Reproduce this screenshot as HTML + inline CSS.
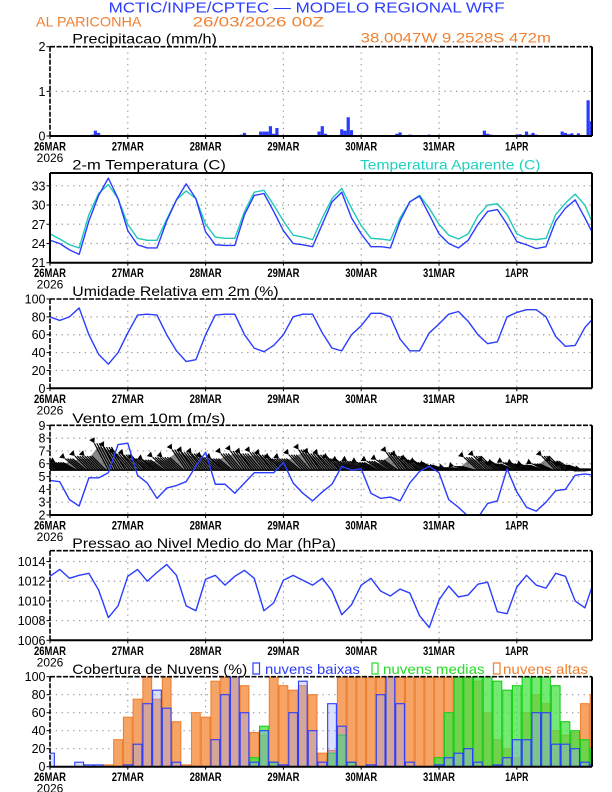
<!DOCTYPE html>
<html><head><meta charset="utf-8"><style>
html,body{margin:0;padding:0;background:#fff;}
svg{display:block;font-family:"Liberation Sans",sans-serif;}
</style></head><body>
<svg id="chart" width="612" height="792" viewBox="0 0 612 792">
<text x="108.6" y="12.5" font-size="15" fill="#2a3cff" textLength="396" lengthAdjust="spacingAndGlyphs">MCTIC/INPE/CPTEC — MODELO REGIONAL WRF</text>
<text x="36" y="26.7" font-size="14" fill="#f08030" textLength="105.5" lengthAdjust="spacingAndGlyphs">AL PARICONHA</text>
<text x="192.6" y="26.7" font-size="14" fill="#f08030" textLength="131.4" lengthAdjust="spacingAndGlyphs">26/03/2026 00Z</text>
<text x="360.7" y="42.7" font-size="14" fill="#f08030" textLength="190.3" lengthAdjust="spacingAndGlyphs">38.0047W 9.2528S 472m</text>
<text x="72.3" y="43.5" font-size="14" fill="#000" textLength="144.6" lengthAdjust="spacingAndGlyphs">Precipitacao (mm/h)</text>
<text x="72.3" y="169.5" font-size="14" fill="#000" textLength="153.6" lengthAdjust="spacingAndGlyphs">2-m Temperatura (C)</text>
<text x="360" y="169.5" font-size="14" fill="#20d0c0" textLength="180.5" lengthAdjust="spacingAndGlyphs">Temperatura Aparente (C)</text>
<text x="72.3" y="296" font-size="14" fill="#000" textLength="206.3" lengthAdjust="spacingAndGlyphs">Umidade Relativa em 2m (%)</text>
<text x="72.3" y="423" font-size="14" fill="#000" textLength="153.2" lengthAdjust="spacingAndGlyphs">Vento em 10m (m/s)</text>
<text x="72.3" y="548" font-size="14" fill="#000" textLength="263.7" lengthAdjust="spacingAndGlyphs">Pressao ao Nivel Medio do Mar (hPa)</text>
<text x="72.3" y="674" font-size="14" fill="#000" textLength="175" lengthAdjust="spacingAndGlyphs">Cobertura de Nuvens (%)</text>
<rect x="253" y="663" width="6.5" height="11" fill="none" stroke="#2a3cff" stroke-width="1.2"/>
<text x="265" y="674" font-size="14" fill="#2a3cff" textLength="95" lengthAdjust="spacingAndGlyphs">nuvens baixas</text>
<rect x="372" y="663" width="6" height="11" fill="none" stroke="#22dd22" stroke-width="1.2"/>
<text x="383" y="674" font-size="14" fill="#22dd22" textLength="101.6" lengthAdjust="spacingAndGlyphs">nuvens medias</text>
<rect x="493.5" y="663" width="6.5" height="11" fill="none" stroke="#f08030" stroke-width="1.2"/>
<text x="503" y="674" font-size="14" fill="#f08030" textLength="85" lengthAdjust="spacingAndGlyphs">nuvens altas</text>
</svg>
<script>
// ---- data (3-hourly unless noted; index i -> hour i*3) ----
const dayLabels = ['26MAR','27MAR','28MAR','29MAR','30MAR','31MAR','1APR'];
const precipHours = [13,14,15,59,60,61,62,65,66,67,68,69,70,76,83,84,85,86,87,90,91,92,93,94,107,108,111,117,134,135,136,144,145,146,147,148,149,150,158,159,160,161,163,166,167];
const precipValues = [0.03,0.12,0.07,0.03,0.07,0.02,0.02,0.1,0.1,0.1,0.22,0.05,0.18,0.01,0.1,0.22,0.05,0.02,0.02,0.15,0.12,0.42,0.13,0.02,0.05,0.08,0.03,0.03,0.12,0.05,0.03,0.03,0.04,0.02,0.1,0.03,0.07,0.03,0.1,0.07,0.04,0.06,0.06,0.8,0.33];
const tempValues = [24.5,24,23,22.3,27.5,31.5,34.2,31,26,23.8,23.3,23.3,27.5,30.8,33.3,31,25.8,23.8,23.7,23.7,28.5,31.5,31.8,29,26,24,23.8,23.5,27,30.5,32,28,25.5,23.5,23.5,23.3,27.5,30.5,31.4,28.5,25.5,24,23.3,24.5,27,29,29.3,27,24.3,23.8,23.2,23.5,27.5,29.5,30.8,28,25];
const apparentValues = [25.5,24.7,23.8,23.3,28.5,31.8,33.2,31,27,24.8,24.5,24.5,27.8,30.8,32.2,31,27,25,24.8,24.8,29,32,32.3,30,27.5,25.3,25,24.6,28,31,32.6,29.5,26.8,24.8,24.7,24.5,28,30.5,31.5,29.5,27,25.3,24.7,25.5,28.3,30,30.2,28.5,25.5,24.8,24.6,24.8,28.5,30.3,31.7,30,26.5];
const rhValues = [80,76,80,90,60,38,27,40,62,82,83,82,60,42,30,32,60,82,83,83,60,45,41,48,60,80,83,83,62,45,42,60,70,84,84,80,55,42,42,62,72,83,86,75,60,50,52,80,85,88,88,80,58,47,48,68,80];
const windSpeed = [4.7,4.6,3.2,2.7,4.9,4.9,5.3,7.5,7.6,5.1,4.5,3.3,4.1,4.3,4.6,5.8,6.9,4.4,4.4,3.7,4.5,5.3,5.3,5.3,6.1,4.5,3.7,3.1,3.8,4.4,5.8,5.5,5.6,3.7,3.3,3.4,3.1,4.5,5.4,5.8,5.3,3.2,2.6,1.9,1.8,2.9,3.1,5.6,3.8,2.6,2.3,3,3.9,4,5.1,5.2,5.1];
const windVectorTop = [6.3,6.1,6.1,6.4,6.6,6.6,7.6,7.3,6.8,6.7,6.4,6.3,6.5,6.5,7.1,6.9,6.8,6.5,6.4,6.8,7.0,6.8,6.9,6.7,6.4,6.4,6.7,7.1,6.8,6.7,6.4,6.2,6.2,6.1,6.2,6.3,6.9,6.6,6.3,6.1,5.9,5.7,5.7,5.8,6.5,6.6,6.2,6.0,6.1,6.0,5.9,6.0,6.6,6.2,5.9,5.6,5.6];
const pressureValues = [1012.5,1013.2,1012.3,1012.6,1012.8,1011.1,1008.3,1009.5,1012.5,1013.2,1012,1012.9,1013.7,1012.6,1009.5,1009,1012.2,1012.6,1011.6,1012.5,1013.1,1012.3,1009,1009.8,1012.1,1012.6,1012.1,1011.6,1012.3,1011,1008.6,1009.6,1011.6,1012.3,1011,1010.5,1011.2,1010.8,1008.5,1007.3,1010.1,1011.5,1010.4,1010.6,1011.7,1011.9,1008.9,1008.7,1011.4,1012.6,1011.6,1011.3,1012.8,1012.5,1010,1009.3,1012.2];
const cloudHigh = [0,0,0,0,0,0,2,30,55,75,100,75,100,50,2,60,55,95,100,100,90,38,35,100,90,85,90,80,15,18,100,100,100,100,100,100,100,100,100,100,100,100,100,100,95,60,30,20,10,60,80,70,40,35,38,70,80];
const cloudMid = [0,0,0,0,0,0,0,0,0,0,0,0,0,0,0,0,0,0,0,0,0,10,45,5,0,0,0,0,0,15,35,5,0,0,0,0,0,0,0,0,10,60,100,100,100,100,95,85,90,100,100,100,90,50,40,30,20];
const cloudLow = [15,0,0,5,2,2,0,0,2,25,70,85,65,5,0,0,0,30,80,100,60,5,40,5,2,60,95,40,5,70,45,5,0,2,80,100,70,5,0,0,2,10,15,20,5,0,2,10,30,30,60,60,25,25,20,5,2];
const precipTicks = [0,1,2];
const tempTicks = [21,24,27,30,33];
const rhTicks = [0,20,40,60,80,100];
const windTicks = [2,3,4,5,6,7,8,9];
const pressureTicks = [1006,1008,1010,1012,1014];
const cloudTicks = [0,20,40,60,80,100];

// ---- layout ----
const NS='http://www.w3.org/2000/svg';
const svg=document.getElementById('chart');
const X0=50, X1=592, PPH=77.8/24, STEP=3;
function xs(h){return X0+h*PPH;}
function mk(tag,attrs,parent){const e=document.createElementNS(NS,tag);for(const k in attrs)e.setAttribute(k,attrs[k]);(parent||svg).appendChild(e);return e;}
function panel(name,top,bottom,min,max,ticks,dashed,labelFmt){
  const p={top,bottom,min,max,y:v=>bottom-(v-min)/(max-min)*(bottom-top)};
  const g=mk('g',{});
  
  
  p.g=g;
  const cp=mk('clipPath',{id:'clip-'+name},g);
  mk('rect',{x:X0,y:top,width:X1-X0,height:bottom-top},cp);
  ticks.forEach(t=>{
    if(t===min||t===max)return;
    const ln=mk('line',{x1:X0,x2:X1,y1:p.y(t),y2:p.y(t),stroke:'#999','stroke-width':1.2,'stroke-dasharray':'1.3,4.5'},g);
    
    
  });
  for(let d=1;d<dayLabels.length;d++){
    const ln=mk('line',{x1:xs(d*24),x2:xs(d*24),y1:top,y2:bottom,stroke:'#999','stroke-width':1.2,'stroke-dasharray':'1.3,4.5'},g);
    
    
  }
  ticks.forEach(t=>{
    const tx=mk('text',{x:45.5,y:p.y(t)+4.5,'font-size':12.5,'text-anchor':'end',fill:'#000'},g);
    tx.textContent=labelFmt?labelFmt(t):String(t);
    
    
    mk('line',{x1:46.5,x2:X0,y1:p.y(t),y2:p.y(t),stroke:'#000','stroke-width':1},g);
  });
  dayLabels.forEach((d,i)=>{
    const tx=mk('text',{x:xs(i*24),y:bottom+14.5,'font-size':12,'font-weight':'bold','text-anchor':'middle',fill:'#000',textLength:d.length>4?32:23,lengthAdjust:'spacingAndGlyphs'},g);
    tx.textContent=d;
    
    
    mk('line',{x1:xs(i*24),x2:xs(i*24),y1:bottom,y2:bottom+3,stroke:'#000','stroke-width':1},g);
  });
  const yr=mk('text',{x:50,y:bottom+26,'font-size':12,'text-anchor':'middle',fill:'#000'},g);
  yr.textContent='2026';
  
  
  p.plot=mk('g',{'clip-path':'url(#clip-'+name+')'},g);
  p.frame=()=>{
    const f=mk('g',{},g);
    
    
    const da=dashed?'5,1.5':'none';
    const sw=dashed?1.6:2;
    mk('line',{x1:X0,x2:X1,y1:top,y2:top,stroke:'#000','stroke-width':sw,'stroke-dasharray':da},f);
    mk('line',{x1:X0,x2:X0,y1:top,y2:bottom,stroke:'#000','stroke-width':sw,'stroke-dasharray':da},f);
    mk('line',{x1:X1,x2:X1,y1:top,y2:bottom,stroke:'#000','stroke-width':2},f);
    mk('line',{x1:X0,x2:X1,y1:bottom,y2:bottom,stroke:'#000','stroke-width':2},f);
  };
  return p;
}
function line(p,vals,color,name){
  const d=vals.map((v,i)=>(i?'L':'M')+xs(i*STEP).toFixed(2)+','+p.y(v).toFixed(2)).join(' ');
  const path=mk('path',{d,fill:'none',stroke:color,'stroke-width':1.4,'stroke-linejoin':'round'},p.plot);
  
  
}

// precipitation
const pP=panel('precip',46.7,136,0,2,precipTicks,true);
precipHours.forEach((h,i)=>{
  const v=precipValues[i];
  const r=mk('rect',{x:xs(h)-1.6,y:pP.y(v),width:3.2,height:pP.bottom-pP.y(v),fill:'#2a3cff'},pP.plot);
  
  
});
pP.frame();

// temperature
const pT=panel('temp',173,262.7,21,35,tempTicks,false);
line(pT,apparentValues,'#20c8b8','apparent-temp-line');
line(pT,tempValues,'#2a3cff','temp-line');
pT.frame();

// RH
const pR=panel('rh',299,388.3,0,100,rhTicks,true);
line(pR,rhValues,'#2a3cff','rh-line');
pR.frame();

// wind
const pW=panel('wind',425.3,515,2,9,windTicks,true);
const DX=-14;
const massD='M'+xs(0)+','+pW.y(5.5)+' '+windVectorTop.map((t,i)=>'L'+(xs(i*STEP)+DX+4).toFixed(2)+','+(pW.y(t)+3).toFixed(2)).join(' ')+' L'+X1+','+pW.y(5.5)+' Z';
const mass=mk('path',{d:massD,fill:'#222','fill-opacity':0.55},pW.plot);


windVectorTop.forEach((t,i)=>{
  const bx=xs(i*STEP), by=pW.y(5.5), tx=bx+DX, ty=pW.y(t);
  const g=mk('g',{},pW.plot);
  
  
  for(let k=0;k<4;k++){
    const off=k*PPH*0.75;
    mk('line',{x1:bx+off,y1:by,x2:tx+off,y2:ty,stroke:'#000','stroke-width':1.2},g);
  }
  const ang=Math.atan2(ty-by,tx-bx);
  const a1=ang+2.6,a2=ang-2.6;
  mk('path',{d:`M${tx},${ty} L${tx-6*Math.cos(a1)},${ty-6*Math.sin(a1)} L${tx-6*Math.cos(a2)},${ty-6*Math.sin(a2)} Z`,fill:'#000'},g);
});
mk('line',{x1:X0,x2:X1,y1:pW.y(5.5),y2:pW.y(5.5),stroke:'#000','stroke-width':1.5},pW.plot);
line(pW,windSpeed,'#2a3cff','wind-speed-line');
pW.frame();

// pressure
const pS=panel('pressure',550.7,640.3,1006,1015.1,pressureTicks,true);
line(pS,pressureValues,'#2a3cff','pressure-line');
pS.frame();

// clouds
const pC=panel('cloud',676.7,766.7,0,100,cloudTicks,true);
const bw=STEP*PPH;
function bars(vals,fill,stroke,name){
  vals.forEach((v,i)=>{
    if(v<=0)return;
    const r=mk('rect',{x:xs(i*STEP)-bw/2+0.5,y:pC.y(v),width:bw-1,height:pC.bottom-pC.y(v),fill,stroke,'stroke-width':1.1},pC.plot);
    
    
  });
}
bars(cloudHigh,'#f6a466','#f08030','cloud-high-bar');
bars(cloudMid,'rgba(70,225,70,0.75)','#18d018','cloud-mid-bar');
bars(cloudLow,'rgba(150,170,255,0.35)','#2a3cff','cloud-low-bar');
pC.frame();
</script>
</body></html>
